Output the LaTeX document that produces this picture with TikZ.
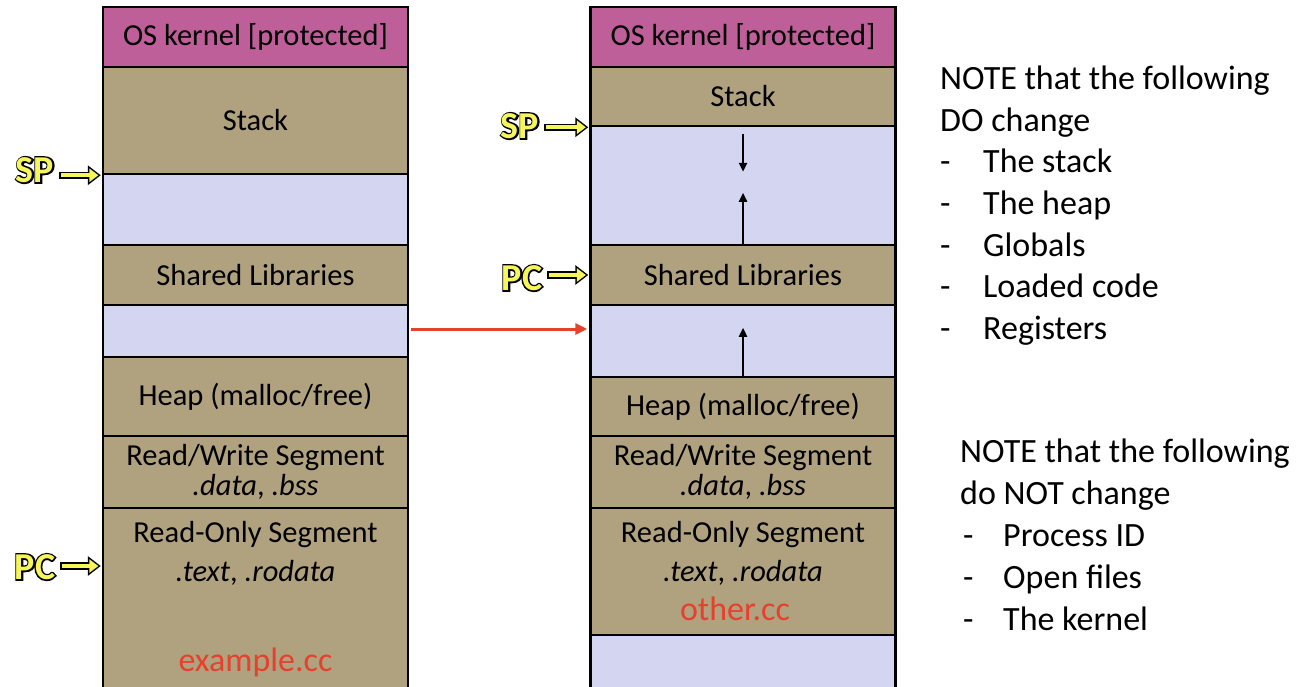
\documentclass[tikz,border=0pt]{standalone}
\usepackage{fontspec}
\setmainfont{Carlito}
\newfontfamily\ptrfontO[FakeBold=8]{Carlito Bold}
\newfontfamily\ptrfont{Carlito Bold}
\usetikzlibrary{arrows.meta,calc}
\definecolor{kern}{HTML}{BF5F99}
\definecolor{tan}{HTML}{B1A27F}
\definecolor{lav}{HTML}{D4D6F1}
\definecolor{redtxt}{HTML}{E5412D}
\definecolor{ptry}{HTML}{F6F65A}
\tikzset{
  seg/.style={draw=black, line width=2.5pt, minimum width=305pt, inner sep=0pt, align=center, font=\fontsize{30.5}{31}\selectfont},
  kseg/.style={seg, fill=kern},
  tseg/.style={seg, fill=tan},
  lseg/.style={seg, fill=lav},
  boxtxt/.style={inner sep=0pt, font=\fontsize{30.5}{31}\selectfont},
  filetxt/.style={inner sep=0pt, text=redtxt, font=\fontsize{34}{34}\selectfont},
  note/.style={inner sep=0pt, anchor=base west, font=\fontsize{34}{40}\selectfont},
  ptrout/.style={line width=7.5pt, black, -{Triangle[length=13pt,width=19pt]}},
  ptrin/.style={line width=4pt, ptry, shorten >=2.4pt, shorten <=1.8pt, -{Triangle[length=9pt,width=13pt]}},
  vtip/.style={line width=2.5pt, black, -{Triangle[length=9pt,width=8pt]}},
  redarr/.style={line width=3pt, redtxt, -{Triangle[length=12pt,width=11pt]}},
}
\newcommand{\ptrlabel}[4]{%
  \node[inner sep=0pt, text=black, font=\fontsize{38}{38}\ptrfontO] (#1o) at (#3,#4) {#2};
  \node[inner sep=0pt, text=ptry, font=\fontsize{38}{38}\ptrfont] (#1) at (#3,#4) {#2};
}
\begin{document}
\begin{tikzpicture}[x=1pt,y=-1pt]
\useasboundingbox[fill=white] (0,0) rectangle (1301,686);

% left column
\node[kseg, minimum height=60pt] (lkern) at (255.5,37) {OS kernel [protected]};
\node[tseg, minimum height=107pt] (lstack) at (255.5,120.5) {Stack};
\node[lseg, minimum height=71pt] (llav1) at (255.5,209.5) {};
\node[tseg, minimum height=60pt] (lshlib) at (255.5,275) {Shared Libraries};
\node[lseg, minimum height=52pt] (llav2) at (255.5,331) {};
\node[tseg, minimum height=79pt] (lheap) at (255.5,396.5) {Heap (malloc/free)};
\node[tseg, minimum height=72pt] (lrw) at (255.5,472) {Read/Write Segment\\[-1pt]\textit{.data}, \textit{.bss}};
\node[tseg, minimum height=186pt] (lro) at (255.5,601) {};
\node[boxtxt] (lro1) at (255.5,535) {Read-Only Segment};
\node[boxtxt] (lro2) at (255.5,573) {\textit{.text}, \textit{.rodata}};
\node[filetxt] (lfile) at (255.5,662) {example.cc};

% right column
\node[kseg, minimum height=60pt] (rkern) at (743,37) {OS kernel [protected]};
\node[tseg, minimum height=59pt] (rstack) at (743,96.5) {Stack};
\node[lseg, minimum height=119pt] (rlav1) at (743,185.5) {};
\node[tseg, minimum height=60pt] (rshlib) at (743,275) {Shared Libraries};
\node[lseg, minimum height=72pt] (rlav2) at (743,341) {};
\node[tseg, minimum height=59pt] (rheap) at (743,406.5) {Heap (malloc/free)};
\node[tseg, minimum height=72pt] (rrw) at (743,472) {Read/Write Segment\\[-1pt]\textit{.data}, \textit{.bss}};
\node[tseg, minimum height=127pt] (rro) at (743,571.5) {};
\node[boxtxt] (rro1) at (743,535) {Read-Only Segment};
\node[boxtxt] (rro2) at (743,573) {\textit{.text}, \textit{.rodata}};
\node[filetxt] (rfile) at (735,609) {other.cc};
\node[lseg, minimum height=58pt] (rlav3) at (743,664) {};

% growth arrows
\draw[vtip] ($(rlav1.north)+(0,9)$) -- ($(rlav1.north)+(0,47)$);
\draw[vtip] (rshlib.north) -- ($(rshlib.north)+(0,-51)$);
\draw[vtip] (rheap.north) -- ($(rheap.north)+(0,-48)$);

% red arrow
\coordinate (rs) at ($(llav2.east)+(2,-2)$);
\coordinate (re) at ($(rlav2.west |- rs)+(-2,0)$);
\draw[redarr] (rs) -- (re);

% pointer labels
\ptrlabel{spL}{SP}{35}{170}
\ptrlabel{spR}{SP}{520}{126}
\ptrlabel{pcL}{PC}{35}{567}
\ptrlabel{pcR}{PC}{522}{278}
\coordinate (spLt) at (lstack.south west);
\coordinate (spRt) at (rstack.south west);
\coordinate (pcLt) at (lro.west |- 0,566);
\coordinate (pcRt) at (rshlib.west);
\foreach \lab/\tgt in {spL/spLt, spR/spRt, pcL/pcLt, pcR/pcRt}{
  \draw[ptrout] ($(\lab.east |- \tgt)+(5,0)$) -- ($(\tgt)+(-1,0)$);
  \draw[ptrin] ($(\lab.east |- \tgt)+(5,0)$) -- ($(\tgt)+(-1,0)$);
}

% notes
\node[note] (n1) at (940,89) {NOTE that the following};
\node[note] (n2) at (940,131) {DO change};
\node[note] (d1) at (940,172) {-};
\node[note] (t1) at (983,172) {The stack};
\node[note] (d2) at (940,214) {-};
\node[note] (t2) at (983,214) {The heap};
\node[note] (d3) at (940,256) {-};
\node[note] (t3) at (983,256) {Globals};
\node[note] (d4) at (940,297) {-};
\node[note] (t4) at (983,297) {Loaded code};
\node[note] (d5) at (940,339) {-};
\node[note] (t5) at (983,339) {Registers};

\node[note] (m1) at (960,462) {NOTE that the following};
\node[note] (m2) at (960,504) {do NOT change};
\node[note] (e1) at (963,546) {-};
\node[note] (u1) at (1003,546) {Process ID};
\node[note] (e2) at (963,588) {-};
\node[note] (u2) at (1003,588) {Open files};
\node[note] (e3) at (963,630) {-};
\node[note] (u3) at (1003,630) {The kernel};
\end{tikzpicture}
\end{document}
